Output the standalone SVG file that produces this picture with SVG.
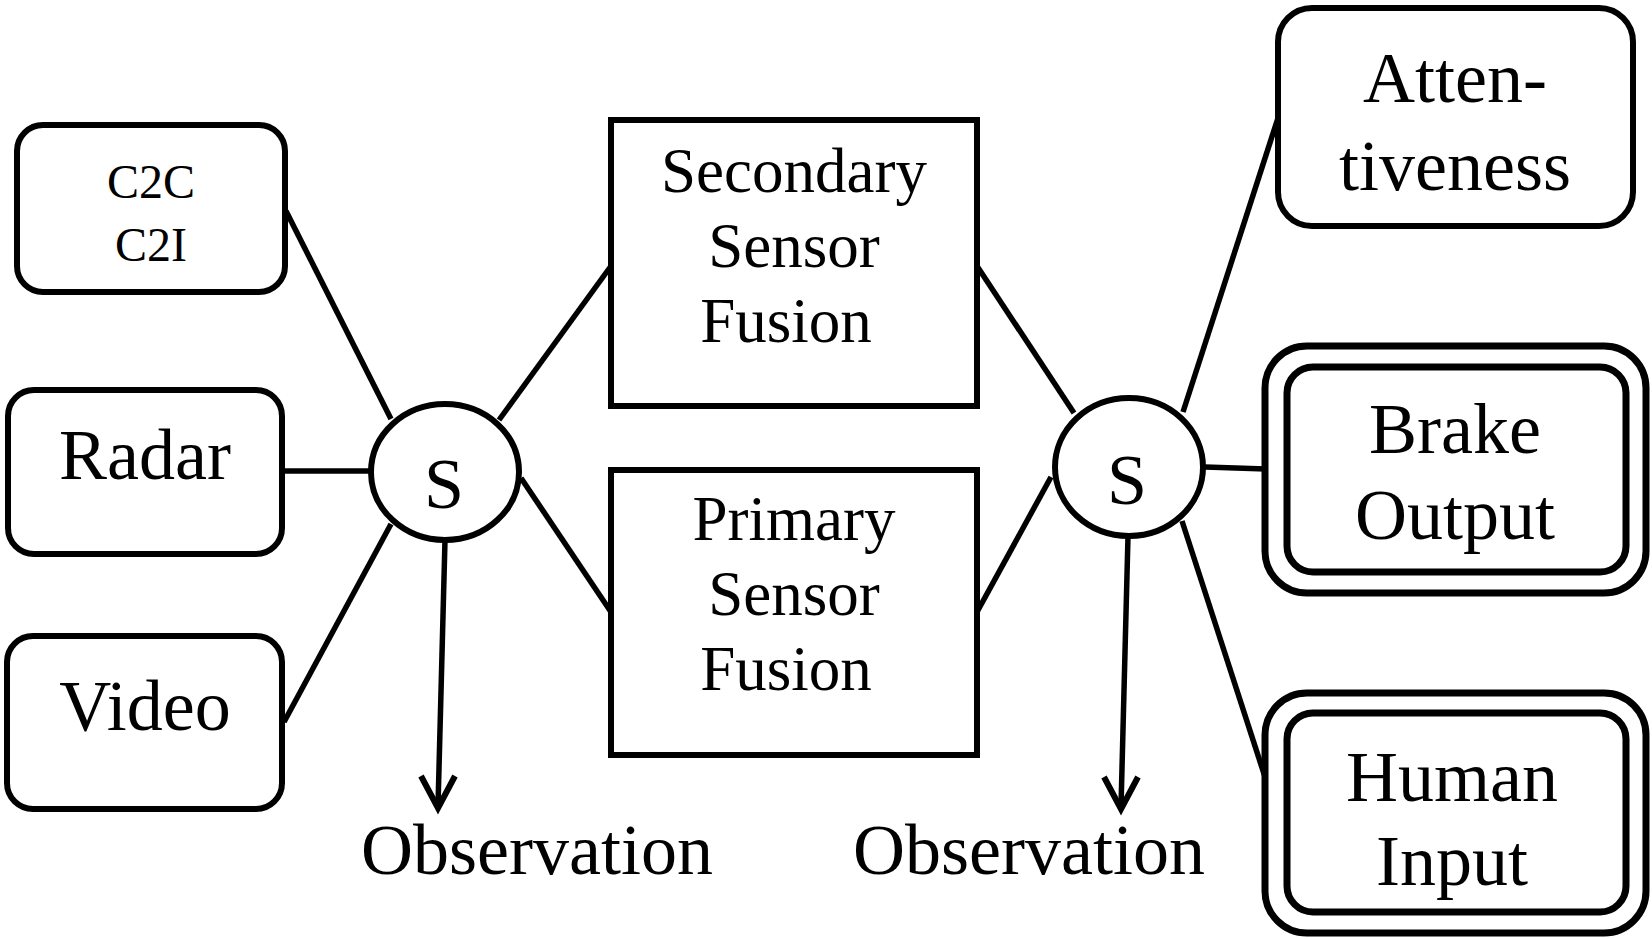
<svg xmlns="http://www.w3.org/2000/svg" width="1652" height="939" viewBox="0 0 1652 939">
<defs>
<style>
.box{fill:#fff;stroke:#000;stroke-width:6}
.dbl{fill:#fff;stroke:#000;stroke-width:7}
.ln{fill:none;stroke:#000;stroke-width:5.5;stroke-linecap:butt}
.head{fill:none;stroke:#000;stroke-width:6;stroke-linejoin:miter;stroke-miterlimit:10}
text{font-family:"Liberation Serif","Times New Roman",serif;fill:#000;text-anchor:middle}
.big{font-size:72px}
.mid{font-size:63px}
.sm{font-size:48px}
</style>
</defs>
<rect width="1652" height="939" fill="#fff"/>
<g id="connectors">
<line class="ln" x1="286" y1="211" x2="391" y2="419"/>
<line class="ln" x1="282" y1="471" x2="370" y2="471"/>
<line class="ln" x1="284" y1="722" x2="391" y2="524"/>
<line class="ln" x1="499" y1="420" x2="611" y2="266"/>
<line class="ln" x1="521" y1="478" x2="611" y2="612"/>
<line class="ln" x1="977" y1="266" x2="1074" y2="413"/>
<line class="ln" x1="977" y1="612" x2="1051" y2="477"/>
<line class="ln" x1="1183" y1="412" x2="1278" y2="118"/>
<line class="ln" x1="1205" y1="467" x2="1266" y2="469"/>
<line class="ln" x1="1182" y1="521" x2="1278" y2="817"/>
<line class="ln" x1="445" y1="540" x2="438" y2="806"/>
<path class="head" d="M421,776 L438,808 L455,776"/>
<line class="ln" x1="1128" y1="536" x2="1121" y2="807"/>
<path class="head" d="M1104,777 L1121,809 L1138,777"/>
</g>
<g id="c2c">
<rect class="box" x="17" y="125" width="268" height="167" rx="26"/>
<text class="sm" x="151" y="198">C2C</text>
<text class="sm" x="151" y="261">C2I</text>
</g>
<g id="radar">
<rect class="box" x="8" y="390" width="274" height="164" rx="26"/>
<text class="big" x="145" y="479">Radar</text>
</g>
<g id="video">
<rect class="box" x="7" y="636" width="275" height="173" rx="26"/>
<text class="big" x="145" y="730">Video</text>
</g>
<g id="s-left">
<ellipse class="box" cx="445" cy="472" rx="74" ry="68"/>
<text class="big" x="444" y="508">S</text>
</g>
<g id="secondary">
<rect class="box" x="611" y="120" width="366" height="286"/>
<text class="mid" x="794" y="192">Secondary</text>
<text class="mid" x="794" y="267">Sensor</text>
<text class="mid" x="786" y="342">Fusion</text>
</g>
<g id="primary">
<rect class="box" x="611" y="470" width="366" height="285"/>
<text class="mid" x="794" y="540">Primary</text>
<text class="mid" x="794" y="615">Sensor</text>
<text class="mid" x="786" y="690">Fusion</text>
</g>
<g id="s-right">
<ellipse class="box" cx="1129" cy="467" rx="74" ry="69"/>
<text class="big" x="1127" y="504">S</text>
</g>
<g id="attentiveness">
<rect class="box" x="1278" y="8" width="355" height="218" rx="34"/>
<text class="big" x="1455" y="102">Atten-</text>
<text class="big" x="1455" y="190">tiveness</text>
</g>
<g id="brake-output">
<rect class="dbl" x="1265" y="346" width="381" height="247" rx="42"/>
<rect class="dbl" x="1287" y="367" width="339" height="205" rx="26"/>
<text class="big" x="1455" y="453">Brake</text>
<text class="big" x="1455" y="539">Output</text>
</g>
<g id="human-input">
<rect class="dbl" x="1265" y="693" width="381" height="240" rx="42"/>
<rect class="dbl" x="1287" y="713" width="339" height="199" rx="26"/>
<text class="big" x="1452" y="801">Human</text>
<text class="big" x="1452" y="885">Input</text>
</g>
<g id="observation-labels">
<text class="big" x="537" y="874">Observation</text>
<text class="big" x="1029" y="874">Observation</text>
</g>
</svg>
